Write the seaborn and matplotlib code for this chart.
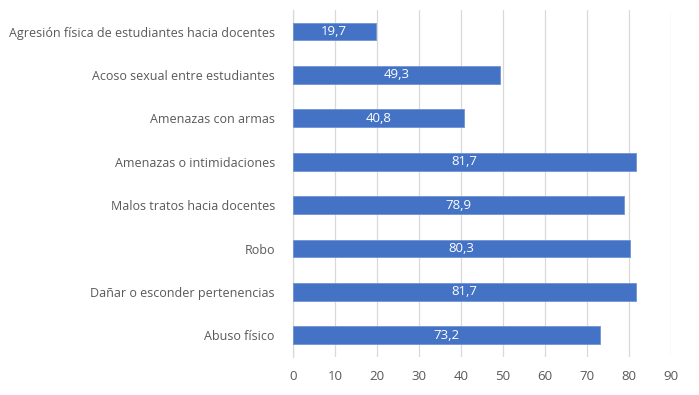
import numpy as np
import pandas as pd
import seaborn as sns
import matplotlib.pyplot as plt
from matplotlib.ticker import FixedLocator

# data
categorias = ['Agresión física de estudiantes hacia docentes',
              'Acoso sexual entre estudiantes',
              'Amenazas con armas',
              'Amenazas o intimidaciones',
              'Malos tratos hacia docentes',
              'Robo',
              'Dañar o esconder pertenencias',
              'Abuso físico']
valores = [19.7, 49.3, 40.8, 81.7, 78.9, 80.3, 81.7, 73.2]
x_ticks = list(range(0, 100, 10))

df = pd.DataFrame({'categoria': categorias, 'valor': valores})

sns.set_style('white')
plt.rcParams['font.family'] = ['Open Sans', 'DejaVu Sans']

gris = '#595959'
fig = plt.figure(figsize=(6.99, 3.95), dpi=100)
ax = fig.add_axes([0.419, 0.096, 0.541, 0.879])

sns.barplot(data=df, x='valor', y='categoria', color='#4472C4', width=0.41,
            saturation=1, edgecolor='#6F93D6', linewidth=0.6, ax=ax, zorder=3)

for i, v in enumerate(valores):
    ax.text(v / 2, i, f'{v:.1f}'.replace('.', ','), ha='center', va='center',
            color='white', fontsize=9.5, zorder=4)

ax.set_xlim(0, 90)
ax.set_ylim(len(categorias) - 0.5, -0.5)
ax.set_xticks(x_ticks)
ax.set_xlabel('')
ax.set_ylabel('')
ax.xaxis.grid(True, color='#D9D9D9', linewidth=0.9, zorder=0)
for s in ['top', 'right', 'bottom']:
    ax.spines[s].set_visible(False)
ax.spines['left'].set_color('#D9D9D9')
ax.spines['left'].set_linewidth(0.9)

ax.tick_params(axis='x', length=0, labelsize=9.5, colors=gris, pad=9)
ax.tick_params(axis='y', which='major', length=0, labelsize=9, colors=gris, pad=13)
ax.yaxis.set_minor_locator(FixedLocator(np.arange(-0.5, len(categorias), 1)))
ax.tick_params(axis='y', which='minor', length=4, color='#D9D9D9', width=0.9)

fig.savefig('out.png', dpi=100)
